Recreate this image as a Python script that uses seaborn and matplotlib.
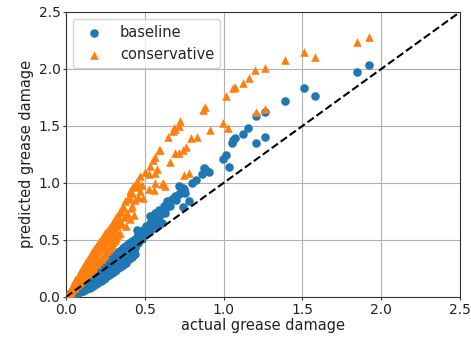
import matplotlib
matplotlib.use("Agg")
import matplotlib.pyplot as plt
import seaborn as sns
import pandas as pd

# Baseline model: actual vs predicted grease damage
baseline_actual = [
    0.01, 0.01, 0.02, 0.02, 0.03, 0.03,
    0.04, 0.04, 0.04, 0.05, 0.05, 0.05, 0.06, 0.06, 0.06, 0.07, 0.07, 0.07,
    0.08, 0.08, 0.08, 0.09, 0.09, 0.09, 0.10, 0.10, 0.10, 0.11, 0.11, 0.11,
    0.12, 0.12, 0.12, 0.13, 0.13, 0.13, 0.14, 0.14, 0.14, 0.15, 0.15, 0.15,
    0.16, 0.16, 0.16, 0.17, 0.17, 0.17, 0.18, 0.18, 0.18, 0.19, 0.19, 0.19,
    0.20, 0.20, 0.20, 0.21, 0.21, 0.21, 0.22, 0.22, 0.22, 0.23, 0.23, 0.23,
    0.24, 0.24, 0.24, 0.25, 0.25, 0.25, 0.26, 0.26, 0.26, 0.27, 0.27, 0.27,
    0.28, 0.28, 0.28, 0.29, 0.29, 0.29, 0.30, 0.30, 0.30, 0.31, 0.31, 0.31,
    0.32, 0.32, 0.32, 0.33, 0.33, 0.33, 0.34, 0.34, 0.34, 0.35, 0.35, 0.35,
    0.36, 0.36, 0.36, 0.37, 0.37, 0.37, 0.38, 0.38, 0.38, 0.39, 0.39, 0.39,
    0.40, 0.40, 0.40, 0.41, 0.42, 0.42, 0.42, 0.43, 0.44, 0.44, 0.44,
    0.45, 0.46, 0.46, 0.47, 0.48, 0.49, 0.50, 0.51, 0.52, 0.53, 0.534, 0.534,
    0.55, 0.56, 0.566, 0.577, 0.577, 0.577, 0.58, 0.593, 0.598, 0.598, 0.608, 0.619,
    0.629, 0.629, 0.64, 0.65, 0.661, 0.672, 0.693, 0.70, 0.714, 0.718, 0.724, 0.741,
    0.745, 0.75, 0.756, 0.783, 0.80, 0.826, 0.862, 0.876, 0.883, 0.91, 0.999, 1.014,
    1.033, 1.056, 1.062, 1.07, 1.125, 1.157, 1.204, 1.206, 1.263, 1.263, 1.39, 1.51,
    1.58, 1.844, 1.924,
]
baseline_pred = [
    0.005, 0.012, 0.01, 0.025, 0.015, 0.035,
    0.02, 0.03, 0.045, 0.025, 0.04, 0.06, 0.03, 0.05, 0.07, 0.035, 0.06, 0.08,
    0.04, 0.065, 0.095, 0.045, 0.075, 0.105, 0.05, 0.08, 0.12, 0.055, 0.09, 0.13,
    0.06, 0.10, 0.14, 0.07, 0.11, 0.155, 0.075, 0.12, 0.165, 0.08, 0.13, 0.18,
    0.09, 0.14, 0.19, 0.10, 0.15, 0.20, 0.105, 0.16, 0.215, 0.11, 0.17, 0.23,
    0.12, 0.18, 0.24, 0.13, 0.19, 0.25, 0.14, 0.20, 0.265, 0.15, 0.21, 0.275,
    0.16, 0.22, 0.29, 0.17, 0.23, 0.30, 0.18, 0.24, 0.31, 0.19, 0.25, 0.32,
    0.20, 0.26, 0.335, 0.21, 0.27, 0.345, 0.22, 0.28, 0.355, 0.23, 0.30, 0.365,
    0.24, 0.31, 0.38, 0.25, 0.32, 0.39, 0.26, 0.33, 0.40, 0.27, 0.34, 0.41,
    0.28, 0.35, 0.425, 0.29, 0.36, 0.435, 0.30, 0.37, 0.445, 0.32, 0.38, 0.455,
    0.33, 0.39, 0.47, 0.445, 0.35, 0.41, 0.49, 0.47, 0.38, 0.43, 0.51,
    0.59, 0.47, 0.55, 0.53, 0.51, 0.59, 0.55, 0.62, 0.58, 0.65, 0.71, 0.577,
    0.62, 0.68, 0.74, 0.709, 0.62, 0.68, 0.66, 0.76, 0.73, 0.715, 0.65, 0.797,
    0.774, 0.74, 0.84, 0.826, 0.797, 0.855, 0.884, 0.846, 0.90, 0.97, 0.91, 0.79,
    0.958, 0.95, 0.91, 0.84, 0.995, 1.025, 1.08, 1.13, 1.12, 1.10, 1.206, 1.247,
    1.142, 1.35, 1.375, 1.39, 1.43, 1.48, 1.585, 1.346, 1.625, 1.40, 1.72, 1.83,
    1.76, 1.97, 2.03,
]

# Conservative model: actual vs predicted grease damage
conservative_actual = [
    0.01, 0.01, 0.02, 0.02, 0.03, 0.03,
    0.04, 0.04, 0.04, 0.05, 0.05, 0.05, 0.06, 0.06, 0.06, 0.07, 0.07, 0.07,
    0.08, 0.08, 0.08, 0.09, 0.09, 0.09, 0.10, 0.10, 0.10, 0.11, 0.11, 0.11,
    0.12, 0.12, 0.12, 0.13, 0.13, 0.13, 0.14, 0.14, 0.14, 0.15, 0.15, 0.15,
    0.16, 0.16, 0.16, 0.17, 0.17, 0.17, 0.18, 0.18, 0.18, 0.19, 0.19, 0.19,
    0.20, 0.20, 0.20, 0.21, 0.21, 0.21, 0.22, 0.22, 0.22, 0.23, 0.23, 0.23,
    0.24, 0.24, 0.24, 0.25, 0.25, 0.25, 0.26, 0.26, 0.26, 0.27, 0.27, 0.27,
    0.28, 0.28, 0.28, 0.29, 0.29, 0.29, 0.30, 0.30, 0.30, 0.31, 0.31, 0.31,
    0.32, 0.32, 0.32, 0.33, 0.33, 0.33, 0.34, 0.34, 0.34,
    0.344, 0.355, 0.36, 0.365, 0.37, 0.376, 0.38, 0.387, 0.39, 0.397, 0.40,
    0.407, 0.407, 0.41, 0.418, 0.42, 0.428, 0.43, 0.44, 0.44, 0.45, 0.455, 0.46,
    0.47, 0.471, 0.48, 0.49, 0.503, 0.524, 0.524, 0.534, 0.551, 0.56, 0.566,
    0.566, 0.566, 0.577, 0.587, 0.598, 0.608, 0.618, 0.629, 0.65, 0.661, 0.678,
    0.686, 0.693, 0.693, 0.714, 0.72, 0.724, 0.741, 0.75, 0.762, 0.783, 0.79, 0.83,
    0.872, 0.881, 0.914, 0.999, 1.014, 1.03, 1.058, 1.071, 1.125, 1.16, 1.20, 1.206,
    1.263, 1.263, 1.39, 1.51, 1.58, 1.844, 1.924,
]
conservative_pred = [
    0.015, 0.025, 0.03, 0.045, 0.045, 0.07,
    0.06, 0.08, 0.095, 0.075, 0.10, 0.12, 0.09, 0.12, 0.145, 0.105, 0.14, 0.17,
    0.12, 0.16, 0.195, 0.135, 0.18, 0.22, 0.15, 0.20, 0.245, 0.165, 0.22, 0.265,
    0.18, 0.24, 0.29, 0.195, 0.26, 0.31, 0.21, 0.275, 0.335, 0.225, 0.29, 0.355,
    0.24, 0.31, 0.375, 0.255, 0.33, 0.40, 0.27, 0.35, 0.42, 0.285, 0.37, 0.44,
    0.30, 0.39, 0.46, 0.315, 0.41, 0.48, 0.33, 0.43, 0.50, 0.345, 0.445, 0.52,
    0.36, 0.46, 0.54, 0.38, 0.48, 0.56, 0.40, 0.50, 0.575, 0.42, 0.52, 0.595,
    0.44, 0.54, 0.615, 0.46, 0.56, 0.635, 0.48, 0.58, 0.655, 0.50, 0.60, 0.675,
    0.52, 0.62, 0.70, 0.54, 0.64, 0.72, 0.56, 0.66, 0.745,
    0.753, 0.636, 0.78, 0.797, 0.70, 0.84, 0.62, 0.709, 0.74, 0.884, 0.86,
    0.928, 0.68, 0.78, 0.914, 0.80, 0.972, 0.72, 0.96, 0.85, 1.016, 0.97, 0.88,
    0.93, 1.06, 0.98, 0.87, 1.10, 1.075, 0.943, 1.147, 1.20, 0.937, 1.23,
    1.09, 1.0, 1.118, 1.29, 1.29, 0.987, 0.995, 0.972, 1.405, 1.18, 1.455,
    1.48, 1.475, 1.265, 1.50, 1.265, 1.54, 1.29, 1.066, 1.318, 1.083, 1.39, 1.405,
    1.64, 1.67, 1.46, 1.525, 1.76, 1.48, 1.83, 1.84, 1.88, 1.92, 1.99, 1.62,
    2.01, 1.65, 2.08, 2.15, 2.10, 2.24, 2.28,
]

series_names = ["baseline", "conservative"]
series_colors = ["#1f77b4", "#ff7f0e"]
series_markers = ["o", "^"]
axis_ticks = [0.0, 0.5, 1.0, 1.5, 2.0, 2.5]

df = pd.concat([
    pd.DataFrame({"actual": baseline_actual, "predicted": baseline_pred,
                  "model": series_names[0]}),
    pd.DataFrame({"actual": conservative_actual, "predicted": conservative_pred,
                  "model": series_names[1]}),
], ignore_index=True)

sns.set_style("ticks")
plt.rcParams["font.family"] = ["DejaVu Sans"]

fig, ax = plt.subplots(figsize=(4.71, 3.39), dpi=100)
fig.subplots_adjust(left=0.140, right=0.977, bottom=0.124, top=0.965)

for name, color, marker in zip(series_names, series_colors, series_markers):
    sub = df[df["model"] == name]
    sns.scatterplot(data=sub, x="actual", y="predicted", ax=ax, color=color,
                    marker=marker, s=38, linewidth=0, label=name, zorder=3)

ax.plot([0, 2.5], [0, 2.5], "k--", lw=1.5, zorder=4)

ax.set_xlim(0, 2.5)
ax.set_ylim(0, 2.5)
ax.set_xticks(axis_ticks)
ax.set_yticks(axis_ticks)
ax.set_xticklabels([f"{t:.1f}" for t in axis_ticks])
ax.set_yticklabels([f"{t:.1f}" for t in axis_ticks])
ax.tick_params(labelsize=10, length=2.5, width=0.8, pad=1.5, color="#333333",
               labelcolor="#222222")
ax.grid(True, color="#b0b0b0", linewidth=0.8, zorder=0)
ax.set_axisbelow(True)
for sp in ax.spines.values():
    sp.set_color("#333333")
    sp.set_linewidth(0.8)

ax.set_xlabel("actual grease damage", fontsize=10.5, color="#222222", labelpad=1)
ax.set_ylabel("predicted grease damage", fontsize=10.5, color="#222222", labelpad=3)
ax.legend(loc="upper left", fontsize=10.5, frameon=True, framealpha=0.8,
          edgecolor="#cccccc", fancybox=True)

fig.savefig("out.png", dpi=100)
